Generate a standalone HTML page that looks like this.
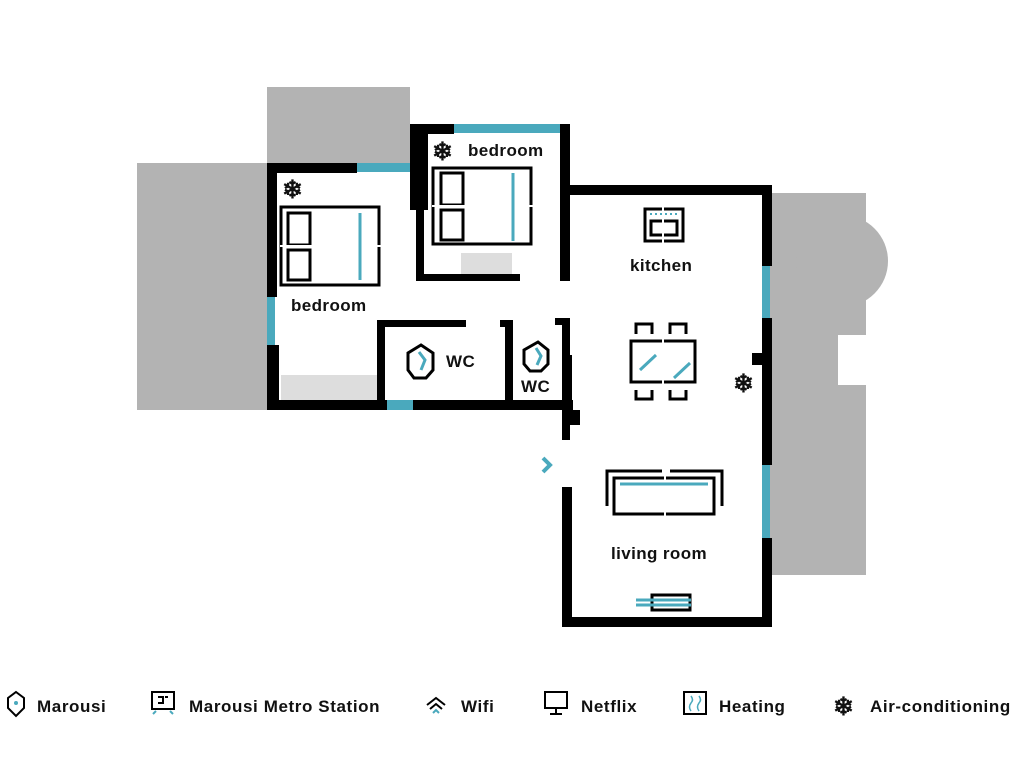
<!DOCTYPE html>
<html><head><style>
body{margin:0;background:#fff;}
svg text{font-family:"Liberation Sans",sans-serif;font-weight:bold;fill:#111;}
</style></head><body>
<svg width="1024" height="768" viewBox="0 0 1024 768" xmlns="http://www.w3.org/2000/svg">
<g fill="#b3b3b3">
<rect x="137" y="163" width="132" height="247"/>
<rect x="267" y="87" width="143" height="78"/>
<rect x="770" y="193" width="96" height="382"/>
<circle cx="842" cy="261" r="46"/>
</g>
<rect x="838" y="335" width="30" height="50" fill="#fff"/>
<g fill="#000">
<rect x="267" y="163" width="10" height="134"/>
<rect x="267" y="345" width="12" height="65"/>
<rect x="267" y="163" width="90" height="10"/>
<rect x="267" y="400" width="120" height="10"/>
<rect x="413" y="400" width="160" height="10"/>
<rect x="410" y="124" width="44" height="10"/>
<rect x="410" y="124" width="18" height="86"/>
<rect x="416" y="200" width="8" height="81"/>
<rect x="416" y="274" width="104" height="7"/>
<rect x="560" y="124" width="10" height="157"/>
<rect x="560" y="185" width="212" height="10"/>
<rect x="762" y="185" width="10" height="81"/>
<rect x="762" y="318" width="10" height="147"/>
<rect x="752" y="353" width="12" height="12"/>
<rect x="762" y="538" width="10" height="89"/>
<rect x="562" y="617" width="210" height="10"/>
<rect x="562" y="487" width="10" height="140"/>
<rect x="562" y="318" width="8" height="122"/>
<rect x="555" y="318" width="12" height="7"/>
<rect x="562" y="355" width="10" height="52"/>
<rect x="562" y="410" width="18" height="15"/>
<rect x="377" y="320" width="89" height="7"/>
<rect x="377" y="320" width="8" height="85"/>
<rect x="500" y="320" width="12" height="7"/>
<rect x="505" y="320" width="8" height="85"/>
</g>
<g fill="#4aa9bd">
<rect x="267" y="297" width="8" height="48"/>
<rect x="357" y="163" width="53" height="9"/>
<rect x="454" y="124" width="106" height="9"/>
<rect x="387" y="400" width="26" height="10"/>
<rect x="762" y="266" width="8" height="52"/>
<rect x="762" y="465" width="8" height="73"/>
</g>
<rect x="281" y="375" width="96" height="25" fill="#ddd"/>
<rect x="461" y="253" width="51" height="21" fill="#ddd"/>
<g fill="none" stroke="#000" stroke-width="3">
<rect x="281" y="207" width="98" height="78"/>
<rect x="288" y="213" width="22" height="32"/>
<rect x="288" y="250" width="22" height="30"/>
<rect x="433" y="168" width="98" height="76"/>
<rect x="441" y="173" width="22" height="32"/>
<rect x="441" y="210" width="22" height="30"/>
<rect x="645" y="209" width="38" height="32"/>
<rect x="651" y="221" width="26" height="14"/>
<rect x="631" y="341" width="64" height="41"/>
<path d="M636 334V324H652V334 M670 334V324H686V334 M636 390V399H652V390 M670 390V399H686V390"/>
<path d="M607 506V471H662 M670 471H722V506"/>
<rect x="614" y="478" width="100" height="36"/>
<polygon points="421,345 433,353 433,370 426,378 414,378 408,370 408,353"/>
<polygon points="538,342 548,350 548,364 541,371 530,371 524,364 524,350"/>
<path d="M652 595H690V610H652Z"/>
</g>
<g stroke="#fff" stroke-width="2">
<line x1="280" y1="246" x2="382" y2="246"/>
<line x1="432" y1="206" x2="534" y2="206"/>
<line x1="663" y1="339" x2="663" y2="384"/>
<line x1="665" y1="465" x2="665" y2="520"/>
<line x1="663" y1="205" x2="663" y2="245"/>
</g>
<g stroke="#4aa9bd" stroke-width="3" fill="none">
<line x1="360" y1="213" x2="360" y2="280"/>
<line x1="513" y1="173" x2="513" y2="241"/>
<line x1="640" y1="370" x2="656" y2="355"/>
<line x1="674" y1="378" x2="690" y2="363"/>
<line x1="620" y1="484" x2="708" y2="484"/>
<line x1="636" y1="600" x2="691" y2="600"/>
<line x1="636" y1="605" x2="691" y2="605"/>
<path d="M419 352 L425 360 L421 370"/>
<path d="M536 348 L541 356 L537 365"/>
<path d="M543 458 L550 465 L543 472" stroke-width="4"/>
</g>
<g stroke="#4aa9bd" stroke-width="2" stroke-dasharray="2 3"><line x1="650" y1="214" x2="678" y2="214"/></g>
<g font-size="25">
<text x="282" y="198">❄</text>
<text x="432" y="160">❄</text>
<text x="733" y="392">❄</text>
</g>
<g font-size="17" letter-spacing="0.4">
<text x="291" y="311">bedroom</text>
<text x="468" y="156">bedroom</text>
<text x="446" y="367">WC</text>
<text x="521" y="392">WC</text>
<text x="630" y="271">kitchen</text>
<text x="611" y="559">living room</text>
</g>
<g font-size="17" letter-spacing="0.6">
<path d="M16 692 L24 698 L24 708 L16 716 L8 708 L8 698Z" fill="none" stroke="#000" stroke-width="2"/>
<circle cx="16" cy="703" r="2" fill="#4aa9bd"/>
<text x="37" y="712">Marousi</text>
<rect x="152" y="692" width="22" height="17" fill="none" stroke="#000" stroke-width="2"/>
<path d="M158 697h5v6h-5 M168 697h-3" stroke="#000" fill="none" stroke-width="2"/>
<path d="M153 714l3-3 M173 714l-3-3" stroke="#4aa9bd" stroke-width="2"/>
<text x="189" y="712">Marousi Metro Station</text>
<path d="M427 705l9-7 9 7 M430 709l6-5 6 5" stroke="#000" fill="none" stroke-width="2"/>
<path d="M433 713l3-3 3 3" stroke="#4aa9bd" fill="none" stroke-width="2"/>
<text x="461" y="712">Wifi</text>
<rect x="545" y="692" width="22" height="16" fill="none" stroke="#000" stroke-width="2"/>
<path d="M556 708v5 M550 714h12" stroke="#000" stroke-width="2"/>
<text x="581" y="712">Netflix</text>
<rect x="684" y="692" width="22" height="22" fill="none" stroke="#000" stroke-width="2"/>
<path d="M691 696q3 4 0 7q-3 4 0 8 M699 696q3 4 0 7q-3 4 0 8" stroke="#4aa9bd" fill="none" stroke-width="1.5"/>
<text x="719" y="712">Heating</text>
<text x="833" y="715" font-size="25">❄</text>
<text x="870" y="712">Air-conditioning</text>
</g>
</svg>
</body></html>
